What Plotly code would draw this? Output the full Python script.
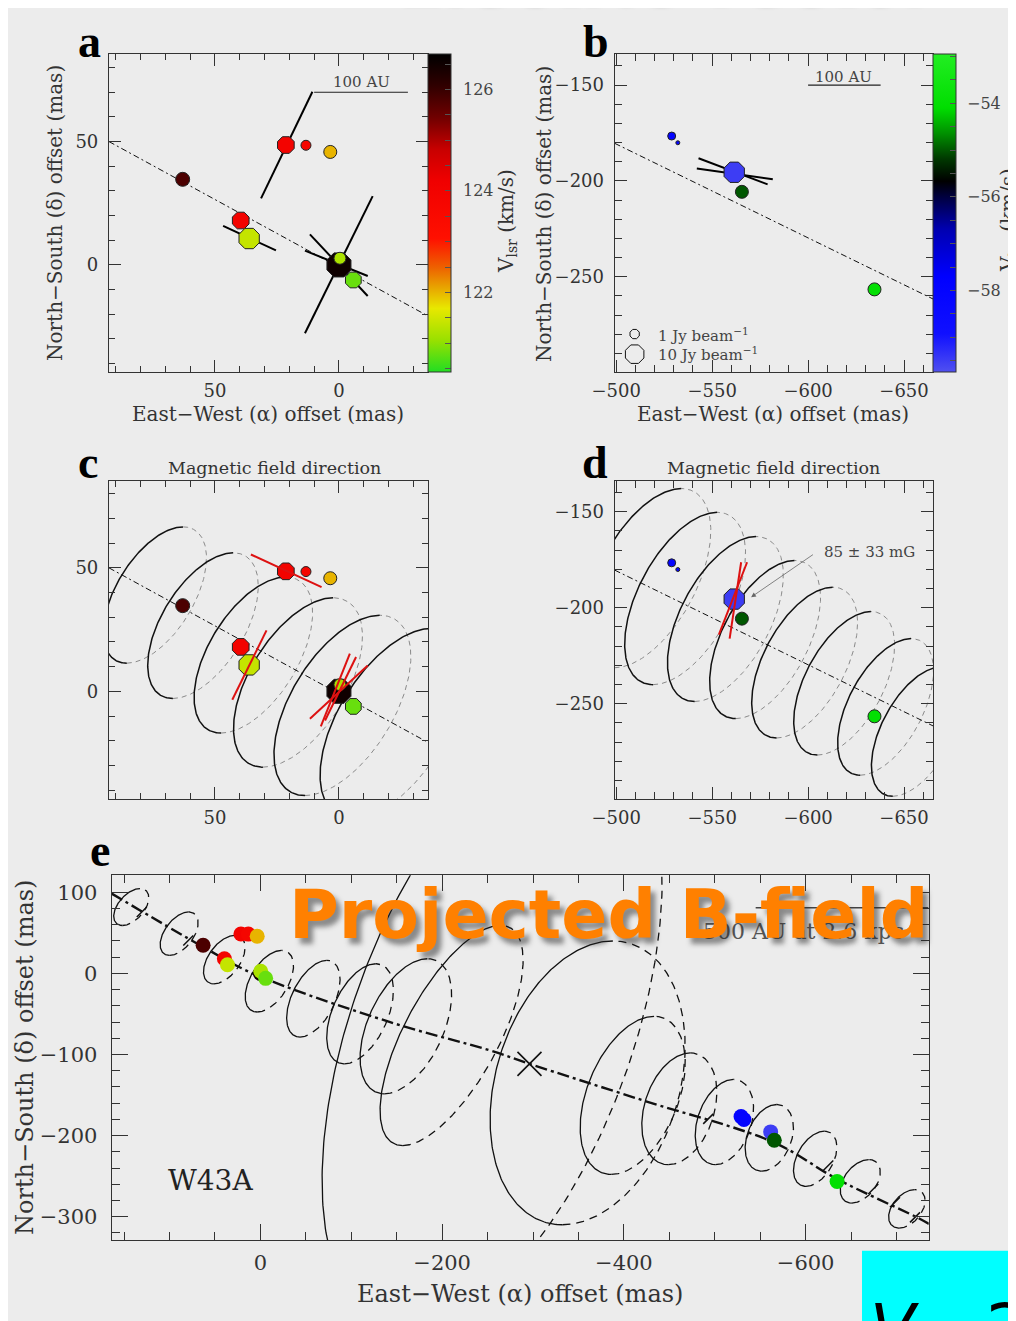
import numpy as np
import plotly.graph_objects as go

OX, OY = 8, 8          # page body margin of the browser
W, H = 1016 - OX, 1321 - OY
BG = "#ececec"
INK = "#333333"
SERIF = "DejaVu Serif"

# ---------------- data ----------------
# maser spots, panels a / c / e (offsets in mas, velocity km/s, flux-scaled size)
a_x = [63.0, 39.6, 36.2, 21.4, 13.3, 3.5, 0.0, -0.4, -5.8]
a_y = [34.7, 18.0, 10.7, 48.6, 48.5, 45.8, 0.0, 2.7, -6.1]
a_v = [125.8, 124.0, 121.4, 124.0, 123.8, 122.0, 126.5, 121.2, 120.8]
a_size = [14, 18, 22, 18, 10, 13, 26, 12, 17]
a_sym = ["circle", "octagon", "octagon", "octagon", "circle", "circle", "octagon", "circle", "octagon"]
A_VMIN, A_VMAX = 120.43, 126.7
a_cbar_ticks = [120.5, 121.0, 121.5, 122.0, 122.5, 123.0, 123.5, 124.0, 124.5, 125.0, 125.5, 126.0, 126.5]
a_cbar_labels = [122, 124, 126]

# maser spots, panels b / d / e
b_x = [-528.9, -532.1, -561.5, -565.5, -634.6]
b_y = [-176.6, -180.1, -195.5, -205.7, -256.6]
b_v = [-58.0, -58.0, -59.5, -55.0, -54.0]
b_size = [8, 4, 22, 13, 13]
b_sym = ["circle", "circle", "octagon", "circle", "circle"]
B_VMIN, B_VMAX = -59.74, -52.95
b_cbar_ticks = [-59.5, -59.0, -58.5, -58.0, -57.5, -57.0, -56.5, -56.0, -55.5, -55.0, -54.5, -54.0, -53.5, -53.0]
b_cbar_labels = [-54, -56, -58]

# jet axis (dash-dot)
ac_jet_x = [92.7, -35.9]
ac_jet_y = [50.0, -20.7]
bd_jet_x = [-499.2, -665.1]
bd_jet_y = [-180.4, -261.6]
e_jet_x = [163.6, 62.7, 7.7, -142.8, -252.9, -296.1, -421.6, -564.7, -634.4, -722.5, -735.7]
e_jet_y = [98.4, 32.5, -0.4, -60.1, -95.1, -111.5, -156.8, -208.3, -253.5, -300.9, -309.0]

# polarisation vectors (start / end, mas)
a_vec_x0 = [31.4, 46.7, 13.7, 11.7, 13.7]
a_vec_y0 = [27.0, 15.8, -27.7, 12.4, 5.8]
a_vec_x1 = [10.7, 25.4, -13.6, -11.6, -11.6]
a_vec_y1 = [70.2, 5.9, 27.9, -12.6, -4.5]
b_vec_x0 = [-542.9, -542.0]
b_vec_y0 = [-188.2, -193.5]
b_vec_x1 = [-578.9, -581.6]
b_vec_y1 = [-201.8, -199.1]
# magnetic field vectors
c_vec_x0 = [35.5, 43.0, 11.7, 7.3, 5.6]
c_vec_y0 = [55.4, -3.4, -11.1, -14.2, -11.8]
c_vec_x1 = [7.0, 29.2, -11.6, -4.4, -6.9]
c_vec_y1 = [42.2, 24.7, 10.5, 15.3, 13.9]
d_vec_x0 = [-553.5, -559.1]
d_vec_y0 = [-214.0, -216.1]
d_vec_x1 = [-568.2, -565.1]
d_vec_y1 = [-176.3, -176.3]

# scale bars
a_bar_x = [10.0, -27.8]
a_bar_y = [70.0, 70.0]
b_bar_x = [-600.0, -637.8]
b_bar_y = [-150.0, -150.0]
e_bar_x = [-545.0, -735.0]
e_bar_y = [81.0, 81.0]

# field-line rings (centre, half-extent x, half-extent y, tilt phase deg)
c_ell_x = [74.2, 54.8, 34.5, 16.5, -1.4, -21.5]
c_ell_y = [39.0, 26.6, 14.7, 3.6, -5.7, -13.0]
c_ell_hx = [20.8, 22.3, 23.9, 26.0, 27.6, 29.1]
c_ell_hy = [27.6, 29.5, 31.6, 34.3, 36.5, 38.5]
c_ell_phi = [33, 33, 33, 33, 33, 33]

d_ell_x = [-516.5, -535.9, -556.9, -577.6, -598.2, -618.8, -640.4, -656.7]
d_ell_y = [-184.6, -195.2, -205.9, -216.6, -228.6, -239.4, -251.7, -264.6]
d_ell_hx = [32.8, 31.5, 30.2, 28.9, 27.6, 26.3, 25.0, 23.7]
d_ell_hy = [46.7, 44.9, 43.0, 41.2, 39.3, 37.4, 35.6, 33.7]
d_ell_phi = [32, 32, 32, 32, 32, 32, 32, 32]

e_ell_x = [142.1, 89.4, 39.7, -9.9, -58.3, -109.7, -160.1, -210.4, -255.0, -360.1, -409.7, -461.0, -510.6, -560.0, -610.5, -660.1, -711.4]
e_ell_y = [81.9, 49.0, 17.0, -9.6, -31.2, -49.8, -65.2, -76.5, -70.4, -135.0, -150.4, -167.0, -183.3, -202.8, -228.6, -256.4, -290.4]
e_ell_hx = [19.3, 20.9, 22.9, 26.6, 29.4, 36.7, 50.4, 78.7, 187.1, 107.3, 57.8, 41.3, 32.1, 26.6, 23.9, 22.0, 20.1]
e_ell_hy = [22.8, 26.8, 29.9, 38.0, 47.3, 61.7, 83.3, 135.8, 370.0, 175.0, 97.5, 68.9, 52.5, 41.1, 34.0, 26.8, 23.7]
e_ell_phi = [30, 30, 30, 30, 30, 28, 28, 43, 30, 15, 24, 17, 18, 18, 25, 25, 25]

e_tick_x = [130.5, 79.3, -492.8, -624.9, -674.4, -698.3, -720.3]
e_tick_y = [75.7, 40.7, -179.4, -237.0, -265.8, -282.3, -300.9]
e_centre_x = [-296.1]
e_centre_y = [-111.5]

# legend of flux
leg_x = [-509.6, -509.6]
leg_y = [-279.9, -290.4]
leg_size = [10, 20]

cs_a = [[0, "#22dd22"], [0.1, "#99e000"], [0.2, "#e8e800"], [0.27, "#e8a000"], [0.33, "#ee6000"],
        [0.42, "#ff1000"], [0.6, "#f00000"], [0.7, "#c80000"], [0.8, "#700000"], [0.9, "#300000"], [1, "#000000"]]
cs_b = [[0, "#5050f0"], [0.12, "#1010ff"], [0.3, "#0000ff"], [0.45, "#0000b0"], [0.55, "#000040"],
        [0.6, "#000000"], [0.67, "#003800"], [0.75, "#009000"], [0.83, "#00dd00"], [1, "#22ee22"]]


# ---------------- helpers ----------------
def pxx(x):
    return (x - OX) / W


def pyy(y):
    return 1 - (y - OY) / H


def ell(cx, cy, hx, hy, phi_deg, solid, n=160):
    phi = np.radians(phi_deg)
    if solid:
        t = np.linspace(np.pi / 2 - phi, 3 * np.pi / 2 - phi, n)
    else:
        t = np.linspace(3 * np.pi / 2 - phi, 5 * np.pi / 2 - phi, n)
    return cx - hx * np.cos(t), cy + hy * np.sin(t + phi)


def ellipse_paths(cxs, cys, hxs, hys, phis, solid):
    X, Y = [], []
    for cx, cy, hx, hy, ph in zip(cxs, cys, hxs, hys, phis):
        x, y = ell(cx, cy, hx, hy, ph, solid)
        X += list(x) + [None]
        Y += list(y) + [None]
    return X, Y


def segs(x0, y0, x1, y1):
    X, Y = [], []
    for a, b, c, d in zip(x0, y0, x1, y1):
        X += [a, c, None]
        Y += [b, d, None]
    return X, Y


fig = go.Figure()


def line(x, y, ax, color="#111", width=1.0, dash=None, shape="linear"):
    fig.add_trace(go.Scatter(x=x, y=y, mode="lines", xaxis="x" + ax, yaxis="y" + ax,
                             line=dict(color=color, width=width, dash=dash, shape=shape),
                             showlegend=False, hoverinfo="skip"))


def points(x, y, ax, marker):
    marker.setdefault("opacity", 1)
    fig.add_trace(go.Scatter(x=x, y=y, mode="markers", xaxis="x" + ax, yaxis="y" + ax,
                             marker=marker, showlegend=False, hoverinfo="skip"))


def colorbar(x0, ticks):
    return dict(thickness=23, thicknessmode="pixels", len=318, lenmode="pixels",
                x=pxx(x0), xanchor="left", xref="container", y=pyy(213), yanchor="middle",
                yref="container", outlinewidth=1, outlinecolor=INK, ticks="inside", ticklen=6,
                tickwidth=1, tickcolor="#555", showticklabels=False, xpad=0, ypad=0,
                tickvals=ticks)


DD = "6px,3px,2px,3px"

# ---------------- panel a ----------------
line(ac_jet_x, ac_jet_y, "", width=1, dash=DD)
vx, vy = segs(a_vec_x0, a_vec_y0, a_vec_x1, a_vec_y1)
line(vx, vy, "", color="#000", width=2)
line(a_bar_x, a_bar_y, "", color="#222", width=1.2)
points(a_x, a_y, "", dict(size=a_size, symbol=a_sym, color=a_v, colorscale=cs_a, cmin=A_VMIN,
                          cmax=A_VMAX, line=dict(width=1, color="#222"),
                          colorbar=colorbar(428, a_cbar_ticks), showscale=True))

# ---------------- panel b ----------------
line(bd_jet_x, bd_jet_y, "2", width=1, dash=DD)
vx, vy = segs(b_vec_x0, b_vec_y0, b_vec_x1, b_vec_y1)
line(vx, vy, "2", color="#000", width=2)
line(b_bar_x, b_bar_y, "2", color="#222", width=1.2)
points(b_x, b_y, "2", dict(size=b_size, symbol=b_sym, color=b_v, colorscale=cs_b, cmin=B_VMIN,
                           cmax=B_VMAX, line=dict(width=1, color="#222"),
                           colorbar=colorbar(933, b_cbar_ticks), showscale=True))
points(leg_x, leg_y, "2", dict(size=leg_size, symbol="octagon-open", color="#111", line=dict(width=1)))

# ---------------- panel c ----------------
ex, ey = ellipse_paths(c_ell_x, c_ell_y, c_ell_hx, c_ell_hy, c_ell_phi, False)
line(ex, ey, "3", color="#8a8a8a", width=1, dash="5px,4px")
ex, ey = ellipse_paths(c_ell_x, c_ell_y, c_ell_hx, c_ell_hy, c_ell_phi, True)
line(ex, ey, "3", color="#111", width=1.5)
line(ac_jet_x, ac_jet_y, "3", width=1, dash=DD)
points(a_x, a_y, "3", dict(size=a_size, symbol=a_sym, color=a_v, colorscale=cs_a, cmin=A_VMIN,
                           cmax=A_VMAX, line=dict(width=1, color="#222"), showscale=False))
vx, vy = segs(c_vec_x0, c_vec_y0, c_vec_x1, c_vec_y1)
line(vx, vy, "3", color="#dd1111", width=2)

# ---------------- panel d ----------------
ex, ey = ellipse_paths(d_ell_x, d_ell_y, d_ell_hx, d_ell_hy, d_ell_phi, False)
line(ex, ey, "4", color="#8a8a8a", width=1, dash="5px,4px")
ex, ey = ellipse_paths(d_ell_x, d_ell_y, d_ell_hx, d_ell_hy, d_ell_phi, True)
line(ex, ey, "4", color="#111", width=1.5)
line(bd_jet_x, bd_jet_y, "4", width=1, dash=DD)
points(b_x, b_y, "4", dict(size=b_size, symbol=b_sym, color=b_v, colorscale=cs_b, cmin=B_VMIN,
                           cmax=B_VMAX, line=dict(width=1, color="#222"), showscale=False))
vx, vy = segs(d_vec_x0, d_vec_y0, d_vec_x1, d_vec_y1)
line(vx, vy, "4", color="#dd1111", width=2)

# ---------------- panel e ----------------
ex, ey = ellipse_paths(e_ell_x, e_ell_y, e_ell_hx, e_ell_hy, e_ell_phi, False)
line(ex, ey, "5", color="#111", width=1.3, dash="8px,6px")
ex, ey = ellipse_paths(e_ell_x, e_ell_y, e_ell_hx, e_ell_hy, e_ell_phi, True)
line(ex, ey, "5", color="#111", width=1.3)
line(e_jet_x, e_jet_y, "5", color="#111", width=2.4, dash="12px,4px,3px,4px", shape="spline")
line(e_bar_x, e_bar_y, "5", color="#444", width=1.4)
points(e_tick_x, e_tick_y, "5", dict(size=10, symbol="line-ne", line=dict(width=1.5, color="#111")))
points(e_centre_x, e_centre_y, "5", dict(size=24, symbol="x-thin", line=dict(width=1.6, color="#111")))
points(a_x, a_y, "5", dict(size=15, symbol="circle", color=a_v, colorscale=cs_a, cmin=A_VMIN,
                           cmax=A_VMAX, showscale=False, line=dict(width=0)))
points(b_x, b_y, "5", dict(size=15, symbol="circle", color=b_v, colorscale=cs_b, cmin=B_VMIN,
                           cmax=B_VMAX, showscale=False, line=dict(width=0)))


# ---------------- axes ----------------
def axis(dom, rng, dtick, minor, tl, ml, fs, anchor, standoff, vertical=False):
    if vertical:
        d = [pyy(dom[1]), pyy(dom[0])]
    else:
        d = [pxx(dom[0]), pxx(dom[1])]
    return dict(domain=d, range=rng, dtick=dtick, tick0=0, ticks="inside", ticklen=tl, tickwidth=1,
                tickcolor=INK, minor=dict(dtick=minor, tick0=0, ticks="inside", ticklen=ml,
                                          tickwidth=1, tickcolor=INK),
                mirror="allticks", showline=True, linecolor=INK, linewidth=1.2, showgrid=False,
                zeroline=False, tickfont=dict(family=SERIF, size=fs, color=INK), anchor=anchor,
                ticklabelstandoff=standoff, tickangle=0, automargin=False, fixedrange=True)


A_X, A_Y = [109, 428], [54, 372]
B_X, B_Y = [614.7, 933], [54, 372]
C_X, C_Y = [109, 428], [480.7, 799]
D_X, D_Y = [614.7, 933], [480.7, 799]
E_X, E_Y = [111.7, 928.7], [875.3, 1240]

fig.update_layout(
    xaxis=axis(A_X, [92.7, -35.9], 50, 10, 12, 6, 18, "y", 2),
    yaxis=axis(A_Y, [-43.4, 85.5], 50, 10, 12, 6, 18, "x", 6, True),
    xaxis2=axis(B_X, [-499.2, -665.1], 50, 10, 12, 7, 18, "y2", 2),
    yaxis2=axis(B_Y, [-299.7, -133.8], 50, 10, 12, 7, 18, "x2", 6, True),
    xaxis3=axis(C_X, [92.7, -35.9], 50, 10, 12, 6, 18, "y3", 2),
    yaxis3=axis(C_Y, [-43.6, 85.3], 50, 10, 12, 6, 18, "x3", 6, True),
    xaxis4=axis(D_X, [-499.2, -665.1], 50, 10, 12, 7, 18, "y4", 2),
    yaxis4=axis(D_Y, [-299.7, -133.8], 50, 10, 12, 7, 18, "x4", 6, True),
    xaxis5=axis(E_X, [163.6, -735.4], 200, 50, 16, 8, 21, "y5", 4),
    yaxis5=axis(E_Y, [-328.8, 121.0], 100, 20, 16, 8, 21, "x5", 9, True),
)

# ---------------- text ----------------
ann = []


def t(text, x, y, size, xanchor="center", yanchor="middle", angle=0, family=SERIF, color=INK,
      xref="paper", yref="paper", shadow=None):
    if xref == "paper":
        x = pxx(x)
    if yref == "paper":
        y = pyy(y)
    f = dict(family=family, size=size, color=color)
    if shadow:
        f["shadow"] = shadow
    ann.append(dict(text=text, x=x, y=y, xref=xref, yref=yref, xanchor=xanchor, yanchor=yanchor,
                    textangle=angle, showarrow=False, font=f))


LET = "Liberation Serif"
for s, x, base in [("a", 89, 57), ("b", 596, 57), ("c", 88, 479), ("d", 595, 479), ("e", 100, 866)]:
    t("<b>%s</b>" % s, x, base - 16, 46, family=LET, color="#000")

t("East\u2212West (\u03b1) offset (mas)", 268, 414, 20)
t("East\u2212West (\u03b1) offset (mas)", 773, 414, 20)
t("North\u2212South (\u03b4) offset (mas)", 55, 213, 20, angle=-90)
t("North\u2212South (\u03b4) offset (mas)", 544, 214, 20, angle=-90)
t("V<sub>lsr</sub> (km/s)", 507, 221, 20, angle=-90)
t("V<sub>lsr</sub> (km/s)", 1009, 220, 20, angle=-90)
for v in a_cbar_labels:
    t(str(v), 461, 54 + (A_VMAX - v) / (A_VMAX - A_VMIN) * 318, 16, xanchor="left", color="#444")
for v in b_cbar_labels:
    t("\u2212%d" % abs(v), 965, 54 + (B_VMAX - v) / (B_VMAX - B_VMIN) * 318, 16, xanchor="left", color="#444")

t("Magnetic field direction", 274, 468, 17.5)
t("Magnetic field direction", 773, 468, 17.5)
t("East\u2212West (\u03b1) offset (mas)", 520, 1294, 24)
t("North\u2212South (\u03b4) offset (mas)", 25, 1058, 24, angle=-90)

# in-panel texts (data coordinates)
t("100 AU", -8.9, 74.1, 15, xref="x", yref="y", color="#444")
t("100 AU", -618.6, -145.9, 15, xref="x2", yref="y2", color="#444")
t("1 Jy beam<sup>\u22121</sup>", -520.8, -280.3, 15, xanchor="left", xref="x2", yref="y2", color="#444")
t("10 Jy beam<sup>\u22121</sup>", -520.8, -290.3, 15, xanchor="left", xref="x2", yref="y2", color="#444")
t("85 \u00b1 33 mG", -632.0, -170.9, 15, xref="x4", yref="y4", color="#444")
ann.append(dict(x=-570.3, y=-194.5, ax=-603.3, ay=-171.8, xref="x4", yref="y4", axref="x4", ayref="y4",
                showarrow=True, arrowhead=2, arrowsize=1.2, arrowwidth=0.8, arrowcolor="#666", text=""))
t("W43A", 55.1, -255.6, 28, xref="x5", yref="y5", color="#222")
t("500 AU at 2.6 kpc", -598.0, 51.3, 22, xref="x5", yref="y5", color="#555")

SH = "5px 6px 5px rgba(40,40,40,0.5)"
t("<b>Projected B-field</b>", 287, 914, 68, xanchor="left", family="DejaVu Sans", color="#ff8000", shadow=SH)
t("<b>Electric vector</b>", 662, -24, 66, family="DejaVu Sans", color="#ff8000", shadow=SH)
t("<i>V</i>", 868, 1328, 66, xanchor="left", family="DejaVu Sans", color="#000")
t("2", 984, 1328, 66, xanchor="left", family="DejaVu Sans", color="#000")

fig.update_layout(
    width=W, height=H, margin=dict(l=0, r=0, t=0, b=0, pad=0, autoexpand=False),
    paper_bgcolor=BG, plot_bgcolor="rgba(0,0,0,0)",
    annotations=ann, showlegend=False,
    shapes=[
        dict(type="rect", xref="paper", yref="paper", x0=pxx(862), x1=1.0, y0=0, y1=pyy(1250.7),
             fillcolor="#00ffff", line=dict(width=0), layer="above"),
    ],
)

fig.write_html("out.html")
